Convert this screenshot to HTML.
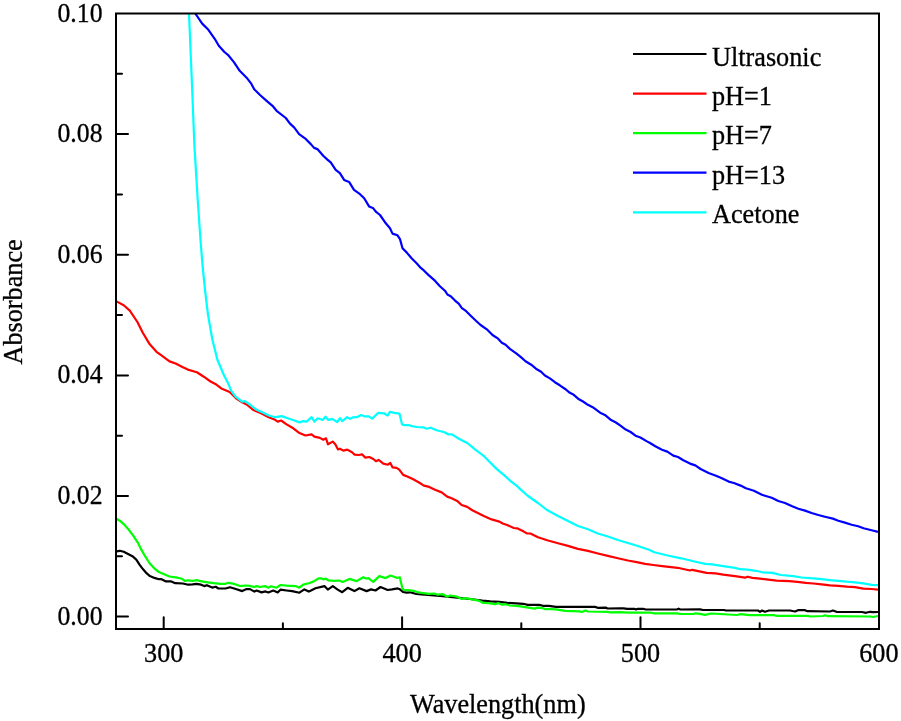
<!DOCTYPE html>
<html><head><meta charset="utf-8"><style>
html,body{margin:0;padding:0;background:#fff;width:901px;height:721px;overflow:hidden}
svg{position:absolute;left:0;top:0;will-change:transform}
text{font-family:"Liberation Serif",serif;font-size:26px;fill:#000;stroke:#000;stroke-width:0.3px}
</style></head><body>
<svg width="901" height="721" viewBox="0 0 901 721">
<g fill="none" stroke-width="2.2" stroke-linejoin="round" stroke-linecap="butt">
<path stroke="#000" d="M116.5,551.3 L119.8,550.8 L123.7,551.8 L127.6,553.7 L132.4,556.2 L136.3,559.6 L139.7,564.9 L143.1,569.3 L146.5,573.2 L149.9,576.1 L154.4,577.9 L158.9,579.2 L161.5,579.2 L166.0,581.4 L171.3,581.4 L175.3,583.2 L182.9,583.5 L188.2,584.7 L192.6,584.4 L196.2,583.8 L201.1,584.7 L204.2,586.1 L206.8,585.2 L212.2,587.6 L215.7,586.8 L218.4,588.5 L225.5,588.5 L230.0,587.2 L236.6,589.2 L242.2,591.1 L246.6,589.1 L250.0,589.1 L254.4,591.6 L256.6,590.5 L261.6,592.4 L265.5,591.4 L268.3,592.5 L273.3,590.5 L277.7,592.4 L280.5,589.7 L286.6,590.5 L292.1,591.1 L299.4,592.7 L304.4,589.4 L308.8,591.6 L310.0,591.1 L315.5,588.3 L324.4,586.1 L327.8,589.6 L332.8,586.1 L337.7,589.6 L342.2,592.2 L347.7,587.8 L354.4,591.1 L359.4,588.3 L366.6,591.1 L371.0,589.4 L375.5,590.5 L380.5,587.0 L387.7,590.0 L392.1,589.4 L397.7,588.4 L399.9,589.3 L403.0,592.0 L406.5,592.6 L410.1,592.3 L416.3,594.0 L421.6,594.4 L427.9,594.9 L440.0,596.0 L455.0,597.5 L470.0,599.0 L482.4,600.7 L490.4,601.4 L499.3,601.8 L507.3,602.9 L516.2,603.3 L523.3,603.8 L527.7,604.9 L539.3,604.9 L542.8,605.8 L548.9,605.8 L556.0,606.9 L595.0,606.9 L597.7,607.8 L605.7,607.6 L607.5,608.5 L620.0,608.3 L623.6,608.3 L627.1,608.8 L634.2,608.8 L636.0,609.5 L637.8,608.8 L643.1,608.8 L645.8,609.5 L676.8,609.5 L678.6,608.7 L680.4,609.5 L700.0,609.4 L703.0,610.0 L724.0,610.0 L726.0,610.5 L758.0,610.5 L760.0,611.8 L762.0,610.5 L765.0,611.8 L769.0,610.5 L790.0,610.5 L795.0,611.5 L798.0,610.2 L805.0,610.2 L807.5,611.2 L830.0,611.5 L833.0,610.5 L837.0,612.0 L862.0,612.0 L866.0,612.8 L870.0,611.8 L873.0,612.2 L878.0,612.0"/>
<path stroke="#f00" d="M116.5,301.4 L123.7,305.2 L129.8,310.6 L137.4,322.0 L142.8,332.7 L149.6,344.1 L156.5,351.8 L161.8,355.6 L169.5,361.4 L175.6,363.5 L182.4,367.0 L187.8,369.6 L196.9,372.3 L203.0,376.2 L210.6,381.5 L216.7,384.8 L221.3,388.4 L229.7,391.9 L236.7,398.9 L242.2,402.2 L246.6,404.4 L253.3,410.0 L261.1,413.3 L268.8,417.2 L274.4,419.4 L277.7,421.6 L281.1,420.5 L286.6,424.4 L293.3,428.3 L298.8,432.7 L305.5,435.5 L311.6,434.4 L314.4,436.6 L319.9,437.9 L323.3,439.7 L326.0,438.3 L328.0,444.3 L332.7,441.6 L335.3,444.3 L338.0,449.4 L340.0,448.7 L343.3,450.6 L347.3,449.6 L352.0,452.3 L354.6,454.6 L358.6,455.0 L362.0,454.3 L365.3,457.6 L369.3,457.0 L373.3,459.0 L375.9,461.2 L378.6,459.9 L383.3,463.6 L387.9,464.7 L390.3,463.0 L392.6,467.4 L396.6,467.9 L399.2,469.6 L403.2,474.9 L407.9,476.7 L413.2,479.3 L418.6,482.3 L423.9,485.6 L429.2,486.9 L435.0,489.8 L441.7,492.4 L447.2,496.6 L451.6,498.3 L457.2,500.9 L461.6,505.0 L467.2,506.9 L472.7,510.5 L478.3,513.3 L483.8,516.1 L491.6,519.4 L499.4,521.6 L502.7,523.5 L507.1,525.0 L513.8,528.0 L517.1,528.3 L523.8,531.6 L527.1,533.5 L530.4,533.5 L538.0,537.3 L548.0,540.5 L558.0,543.3 L568.0,545.9 L577.9,548.9 L587.9,550.9 L597.9,553.5 L607.9,555.9 L617.9,558.3 L627.9,560.5 L637.9,562.3 L645.0,563.8 L653.3,565.0 L662.2,566.1 L677.7,567.8 L690.0,570.5 L692.2,569.8 L706.6,572.8 L715.5,573.3 L723.2,574.6 L735.0,576.2 L745.0,577.7 L747.5,576.7 L752.5,577.9 L760.0,578.7 L768.3,579.6 L776.6,580.6 L789.1,581.2 L797.4,581.8 L805.8,582.9 L813.3,583.5 L821.7,584.3 L830.0,585.4 L838.3,585.8 L846.6,586.7 L855.0,587.1 L863.3,588.7 L871.6,589.0 L878.0,589.6"/>
<path stroke="#0f0" d="M116.5,518.8 L119.8,520.7 L123.7,524.1 L128.6,529.5 L133.4,535.8 L137.8,542.6 L141.2,549.4 L145.1,556.2 L149.4,563.0 L153.8,567.8 L158.9,572.1 L164.2,574.3 L169.5,576.5 L175.8,577.4 L182.0,578.8 L185.1,581.0 L188.2,580.3 L192.6,580.8 L197.1,580.1 L200.6,581.2 L203.3,581.7 L207.7,582.3 L213.9,583.2 L220.2,583.8 L225.5,583.8 L228.3,582.8 L234.4,583.9 L240.0,586.1 L245.5,585.5 L250.0,585.9 L253.9,587.0 L256.6,586.1 L260.0,587.0 L265.0,586.1 L268.3,587.7 L271.1,586.3 L276.6,587.7 L280.5,585.0 L286.6,585.7 L295.5,586.1 L299.4,587.7 L303.2,584.6 L308.8,583.3 L313.3,581.6 L318.9,578.3 L321.1,578.3 L323.9,579.4 L325.5,578.5 L328.3,580.3 L334.4,580.8 L339.4,580.5 L342.7,581.9 L349.4,578.9 L356.6,581.1 L363.3,577.2 L366.0,578.5 L368.3,578.1 L373.3,581.9 L379.4,576.1 L385.5,578.1 L390.5,575.5 L396.6,577.8 L399.9,577.4 L400.4,580.0 L402.5,588.4 L403.9,590.0 L408.3,590.2 L413.7,590.8 L417.2,592.0 L421.6,592.9 L428.7,593.8 L434.1,593.5 L437.6,594.7 L443.0,594.2 L447.4,596.7 L450.1,595.5 L457.2,596.7 L461.6,598.9 L466.0,598.2 L470.0,598.9 L474.4,599.8 L478.9,600.7 L483.3,602.9 L488.7,603.1 L494.9,604.2 L498.4,603.1 L502.0,604.7 L505.5,604.2 L510.0,605.5 L518.8,606.2 L526.8,607.3 L534.8,608.6 L537.5,607.6 L541.0,607.8 L545.5,609.1 L550.0,609.1 L556.0,609.4 L564.9,610.9 L579.1,611.3 L582.6,611.8 L585.3,610.4 L588.0,611.5 L607.5,611.8 L610.2,612.4 L620.0,612.2 L628.9,612.7 L651.1,612.7 L653.7,613.3 L676.8,613.3 L680.4,614.0 L693.7,614.0 L695.5,613.3 L700.0,613.8 L705.0,614.8 L711.0,613.5 L737.0,615.0 L740.0,614.2 L750.0,615.2 L774.0,615.0 L776.0,615.8 L808.0,615.8 L810.0,616.5 L823.0,616.0 L825.0,615.2 L828.0,616.2 L870.0,616.5 L873.0,617.0 L878.0,616.0"/>
<path stroke="#00f" d="M195.3,13.5 L202.2,23.6 L208.4,29.8 L214.7,38.8 L218.8,45.8 L224.4,52.0 L227.9,54.8 L234.1,62.4 L239.7,70.8 L246.6,77.7 L251.4,83.9 L254.2,89.2 L260.0,95.0 L266.6,100.8 L272.5,105.8 L276.6,110.8 L285.8,118.0 L290.0,123.6 L294.1,127.4 L299.1,134.1 L305.0,138.3 L310.8,144.1 L314.1,147.9 L317.4,149.1 L323.2,155.7 L327.4,159.6 L330.7,162.4 L335.7,169.9 L339.9,173.2 L344.1,179.9 L349.1,181.9 L354.0,189.9 L360.0,194.2 L364.2,198.3 L369.2,206.6 L373.3,208.3 L375.8,211.6 L380.0,215.0 L385.8,223.3 L390.0,228.3 L392.5,233.6 L397.5,235.3 L400.0,239.1 L402.5,248.3 L406.6,252.4 L411.6,258.3 L416.6,263.2 L420.8,267.9 L424.1,270.7 L428.3,274.9 L434.9,280.7 L439.9,286.2 L444.9,290.7 L447.4,294.5 L450.7,296.2 L455.0,300.6 L458.7,303.7 L461.9,308.1 L466.2,311.2 L471.2,316.2 L476.2,321.0 L480.6,325.0 L486.8,329.3 L492.5,335.0 L498.1,338.7 L501.8,342.7 L505.6,344.7 L509.9,348.9 L516.2,353.4 L521.2,357.4 L525.5,361.2 L531.2,364.7 L536.8,369.3 L541.1,371.8 L544.9,375.5 L549.9,378.4 L554.9,382.2 L559.8,385.3 L565.9,389.5 L569.5,392.6 L573.2,394.4 L578.1,398.7 L583.0,401.5 L587.9,404.8 L592.7,407.2 L600.1,412.7 L604.9,414.9 L611.1,420.1 L615.9,422.5 L620.8,425.9 L625.7,429.6 L630.6,432.0 L635.5,435.7 L640.4,437.5 L646.5,441.1 L650.0,443.0 L655.3,446.3 L662.0,449.7 L667.3,451.6 L673.3,455.6 L678.0,457.0 L683.3,460.3 L690.0,463.6 L695.3,465.4 L700.6,469.0 L708.6,473.0 L716.6,476.0 L721.9,478.3 L728.6,481.6 L733.9,483.0 L740.6,485.6 L745.9,488.3 L753.9,490.7 L761.9,494.7 L765.0,495.7 L771.7,497.7 L778.3,501.0 L785.0,503.0 L791.6,506.0 L798.3,508.7 L805.0,510.6 L811.6,513.0 L818.3,515.0 L824.9,516.7 L832.9,518.6 L838.3,520.7 L844.9,522.6 L851.6,524.7 L858.2,526.3 L863.6,528.3 L871.6,530.3 L878.0,531.9"/>
<path stroke="#0ff" d="M189.0,13.5 L192.2,90.0 L194.4,145.6 L197.8,201.0 L200.5,240.0 L202.5,264.9 L205.0,289.9 L208.0,314.8 L212.4,339.8 L217.4,359.7 L223.7,374.7 L228.7,384.6 L231.1,390.6 L235.5,396.7 L242.2,401.7 L245.0,401.1 L251.1,405.5 L256.6,409.8 L263.3,412.8 L268.8,415.5 L275.5,417.2 L281.6,416.1 L287.7,418.3 L294.4,420.5 L299.4,422.4 L303.3,421.1 L306.6,421.6 L311.6,417.2 L314.4,421.6 L317.7,418.3 L322.7,420.0 L325.5,416.6 L328.3,420.0 L332.2,418.9 L337.2,422.0 L340.0,418.1 L342.2,421.1 L347.2,417.2 L350.0,418.9 L352.7,417.4 L356.6,417.2 L361.1,415.0 L364.4,416.3 L368.8,416.3 L372.2,418.6 L378.3,412.8 L383.8,413.3 L387.7,415.5 L389.9,411.9 L394.4,412.8 L399.4,413.6 L402.1,424.4 L404.4,425.2 L408.8,425.2 L412.1,426.1 L416.7,427.0 L423.3,427.3 L426.6,428.7 L430.6,427.7 L436.6,430.3 L444.6,432.3 L448.0,434.3 L452.0,434.3 L459.3,439.0 L467.3,443.0 L475.3,449.6 L483.3,455.6 L489.9,462.3 L496.6,468.9 L504.6,475.6 L511.2,481.6 L516.6,485.6 L520.5,489.4 L528.0,496.0 L538.0,503.0 L547.0,510.0 L558.0,516.0 L568.0,521.0 L578.0,526.0 L588.0,529.3 L597.9,533.5 L607.9,536.5 L617.9,540.0 L627.9,543.0 L637.9,546.0 L648.9,549.8 L654.4,552.2 L667.7,555.5 L681.1,558.3 L695.5,561.7 L705.5,563.9 L712.1,564.4 L723.2,566.1 L735.0,567.9 L740.0,569.2 L747.5,569.6 L755.8,570.8 L762.5,572.3 L772.5,572.9 L780.8,575.0 L793.3,576.2 L801.6,577.5 L813.3,578.3 L821.7,579.2 L830.0,580.2 L838.3,580.8 L846.6,581.7 L855.0,582.3 L863.3,583.3 L871.6,584.8 L878.0,585.2"/>
</g>
<rect x="116" y="13.5" width="763" height="615.5" fill="none" stroke="#000" stroke-width="2"/>
<path d="M163.7,629 V617.3 M282.9,629 V623.3 M402.1,629 V617.3 M521.3,629 V623.3 M640.5,629 V617.3 M759.7,629 V623.3 M116,616.6 H128.0 M116,556.3 H122.0 M116,496.0 H128.0 M116,435.7 H122.0 M116,375.4 H128.0 M116,315.1 H122.0 M116,254.7 H128.0 M116,194.4 H122.0 M116,134.1 H128.0 M116,73.8 H122.0" stroke="#000" stroke-width="2" stroke-linecap="round" fill="none"/>
<text transform="translate(102.5,21.5) scale(0.99,1.09)" text-anchor="end">0.10</text>
<text transform="translate(102.5,142.1) scale(0.99,1.09)" text-anchor="end">0.08</text>
<text transform="translate(102.5,262.7) scale(0.99,1.09)" text-anchor="end">0.06</text>
<text transform="translate(102.5,383.4) scale(0.99,1.09)" text-anchor="end">0.04</text>
<text transform="translate(102.5,504.0) scale(0.99,1.09)" text-anchor="end">0.02</text>
<text transform="translate(102.5,624.6) scale(0.99,1.09)" text-anchor="end">0.00</text>
<text transform="translate(163.7,661.8) scale(1.01,1.09)" text-anchor="middle">300</text>
<text transform="translate(402.1,661.8) scale(1.01,1.09)" text-anchor="middle">400</text>
<text transform="translate(640.5,661.8) scale(1.01,1.09)" text-anchor="middle">500</text>
<text transform="translate(878.9,661.8) scale(1.01,1.09)" text-anchor="middle">600</text>
<text transform="translate(497.8,712.7) scale(1.01,1.09)" text-anchor="middle">Wavelength(nm)</text>
<text transform="translate(22.4,301.9) rotate(-90) scale(1.01,1.09)" text-anchor="middle">Absorbance</text>
<g stroke-width="2.2">
<line x1="633" y1="54" x2="706.5" y2="54" stroke="#000"/>
<line x1="633" y1="93.7" x2="706.5" y2="93.7" stroke="#f00"/>
<line x1="633" y1="133.2" x2="706.5" y2="133.2" stroke="#0f0"/>
<line x1="633" y1="172.7" x2="706.5" y2="172.7" stroke="#00f"/>
<line x1="633" y1="212.4" x2="706.5" y2="212.4" stroke="#0ff"/>
</g>
<text transform="translate(712,65.6) scale(1.01,1.09)" text-anchor="start">Ultrasonic</text>
<text transform="translate(712,105.0) scale(1.01,1.09)" text-anchor="start">pH=1</text>
<text transform="translate(712,144.4) scale(1.01,1.09)" text-anchor="start">pH=7</text>
<text transform="translate(712,183.8) scale(1.01,1.09)" text-anchor="start">pH=13</text>
<text transform="translate(712,223.2) scale(1.01,1.09)" text-anchor="start">Acetone</text>
</svg>
</body></html>
